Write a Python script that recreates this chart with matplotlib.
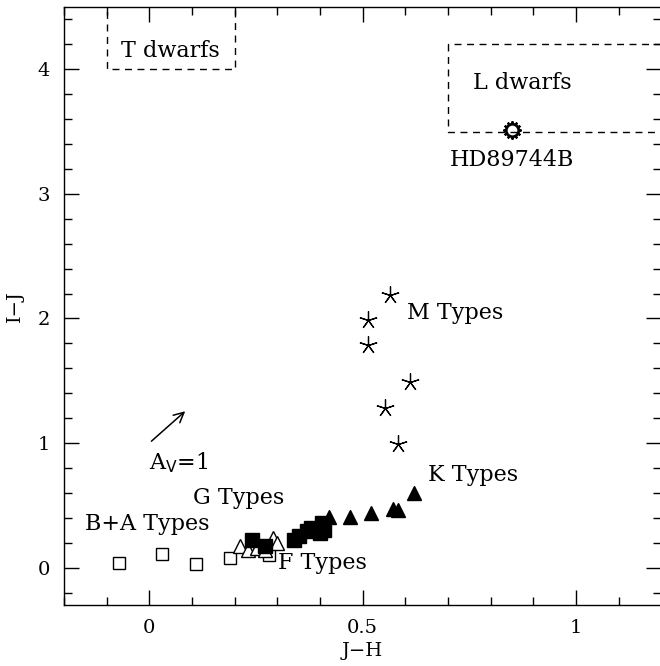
import matplotlib.pyplot as plt
from matplotlib.ticker import MultipleLocator

plt.rcParams['font.family'] = 'DejaVu Serif'

# -------------------------------
# Data
# -------------------------------
ba_jh = [-0.07, 0.03, 0.11, 0.19, 0.28]
ba_ij = [0.04, 0.11, 0.03, 0.08, 0.10]

f_jh = [0.213, 0.232, 0.253, 0.27, 0.29, 0.30]
f_ij = [0.17, 0.14, 0.16, 0.14, 0.24, 0.20]

g_jh = [0.24, 0.27, 0.34, 0.35, 0.37, 0.38, 0.39, 0.40, 0.41, 0.405]
g_ij = [0.22, 0.17, 0.22, 0.25, 0.29, 0.32, 0.31, 0.28, 0.30, 0.36]

k_jh = [0.42, 0.47, 0.52, 0.57, 0.583, 0.62]
k_ij = [0.41, 0.41, 0.44, 0.47, 0.46, 0.60]

m_jh = [0.564, 0.513, 0.513, 0.611, 0.553, 0.583]
m_ij = [2.19, 1.99, 1.79, 1.49, 1.28, 0.995]

hd_jh = [0.85]
hd_ij = [3.51]

# dwarf regions: (x0, x1, y0, y1)
t_box = (-0.1, 0.2, 4.0, 4.6)
l_box = (0.7, 1.3, 3.5, 4.2)

# reddening vector A_V = 1
av_start = (0.0, 1.0)
av_end = (0.089, 1.27)

# -------------------------------
# Plot
# -------------------------------
fig = plt.figure(figsize=(6.6, 6.66), dpi=100)
ax = fig.add_axes([0.097, 0.0916, 0.905, 0.898])

ax.plot(ba_jh, ba_ij, 's', ms=9, mfc='white', mec='black', mew=1.0, ls='none')
ax.plot(f_jh, f_ij, '^', ms=10, mfc='white', mec='black', mew=1.0, ls='none')
ax.plot(g_jh, g_ij, 's', ms=9.5, mfc='black', mec='black', ls='none')
ax.plot(k_jh, k_ij, '^', ms=10, mfc='black', mec='black', ls='none')
ax.plot(m_jh, m_ij, marker=(5, 2, 0), ms=13, color='black', mew=0.9, ls='none')

# HD89744B: sun-like symbol
ax.plot(hd_jh, hd_ij, marker=(12, 2, 0), ms=13, color='black', mew=1.5, ls='none')
ax.plot(hd_jh, hd_ij, 'o', ms=9, mfc='white', mec='black', mew=2.0, ls='none')

for (x0, x1, y0, y1) in [t_box, l_box]:
    ax.plot([x0, x0, x1, x1, x0], [y1, y0, y0, y1, y1], color='black',
            ls=(0, (5, 4)), lw=1.0, clip_on=True)

ax.annotate('', xy=av_end, xytext=av_start,
            arrowprops=dict(arrowstyle='->', color='black', lw=1.1,
                            mutation_scale=18))

fs = 16
ax.text(0.05, 4.15, 'T dwarfs', fontsize=fs, ha='center', va='center')
ax.text(0.875, 3.89, 'L dwarfs', fontsize=fs, ha='center', va='center')
ax.text(0.705, 3.27, 'HD89744B', fontsize=fs, ha='left', va='center')
ax.text(0.604, 2.04, 'M Types', fontsize=fs, ha='left', va='center')
ax.text(0.653, 0.74, 'K Types', fontsize=fs, ha='left', va='center')
ax.text(0.103, 0.56, 'G Types', fontsize=fs, ha='left', va='center')
ax.text(-0.15, 0.35, 'B+A Types', fontsize=fs, ha='left', va='center')
ax.text(0.302, 0.04, 'F Types', fontsize=fs, ha='left', va='center')
ax.text(0.0, 0.84, r'A$_{\rm V}$=1', fontsize=fs, ha='left', va='center')

ax.set_xlim(-0.2, 1.2)
ax.set_ylim(-0.3, 4.5)
ax.xaxis.set_major_locator(MultipleLocator(0.5))
ax.xaxis.set_minor_locator(MultipleLocator(0.1))
ax.yaxis.set_major_locator(MultipleLocator(1))
ax.yaxis.set_minor_locator(MultipleLocator(0.2))
ax.set_xticks([0, 0.5, 1])
ax.set_xticklabels(['0', '0.5', '1'])
ax.tick_params(which='both', direction='in', top=True, right=True,
               labelsize=14, width=1.0)
ax.tick_params(which='major', length=11, pad=10)
ax.tick_params(which='minor', length=5.5)

ax.set_xlabel('J\u2212H', fontsize=14, labelpad=4)
ax.set_ylabel('I\u2212J', fontsize=14, labelpad=10)

for s in ax.spines.values():
    s.set_linewidth(1.0)

fig.savefig('out.png', dpi=100)
